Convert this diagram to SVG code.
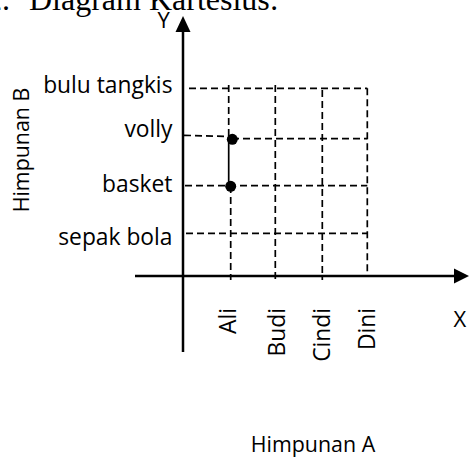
<svg xmlns="http://www.w3.org/2000/svg" width="469" height="458" viewBox="0 0 469 458">
<style>
.title{font-family:"Liberation Serif","Times New Roman",serif;font-size:32px;fill:#000}
.lbl{font-family:"Open Sans","Noto Sans",sans-serif;font-size:22.8px;fill:#000}
.ax{font-family:"Open Sans","Noto Sans",sans-serif;font-size:21.4px;fill:#000}
.xy{font-family:"Open Sans","Noto Sans",sans-serif;font-size:22px;fill:#000}
.axis{stroke:#000;stroke-width:2.5;fill:none}
.grid{stroke:#000;stroke-width:1.7;stroke-dasharray:7 4;fill:none}
.solid{stroke:#000;stroke-width:1.7;fill:none}
</style>
<rect width="469" height="458" fill="#fff"/>
<g id="title">
<text class="title" x="-14" y="10">2.</text>
<text class="title" x="29" y="10">Diagram Kartesius:</text>
</g>
<g id="axes">
<line class="axis" x1="183" y1="30" x2="183" y2="352"/>
<polygon points="183,16 175.5,32 190.5,32" fill="#000"/>
<line class="axis" x1="135" y1="276" x2="456" y2="276"/>
<polygon points="469,276 454,268.5 454,283.5" fill="#000"/>
<text class="xy" x="157.5" y="28">Y</text>
<text class="xy" x="453.5" y="327">X</text>
</g>
<g id="connectors">
<line class="grid" x1="189" y1="88.3" x2="367.3" y2="88.3"/>
<line class="grid" x1="184" y1="135.3" x2="228.7" y2="136.5"/>
<line class="grid" x1="232" y1="138.7" x2="367.3" y2="138.7"/>
<line class="grid" x1="185" y1="185.7" x2="367.3" y2="185.7"/>
<line class="grid" x1="186" y1="233.3" x2="367.3" y2="233.3"/>
<line class="grid" x1="228.7" y1="85" x2="228.7" y2="139"/>
<line class="solid" x1="228.7" y1="139" x2="228.7" y2="186"/>
<line class="grid" x1="230.7" y1="186" x2="230.7" y2="280"/>
<line class="grid" x1="275.3" y1="85" x2="275.3" y2="280"/>
<line class="grid" x1="322.3" y1="90" x2="322.3" y2="280"/>
<line class="grid" x1="367.3" y1="88.3" x2="367.3" y2="276"/>
</g>
<g id="points">
<circle cx="232.3" cy="139.3" r="5.5" fill="#000"/>
<circle cx="230.7" cy="186.3" r="5.5" fill="#000"/>
</g>
<g id="set-B">
<text class="lbl" x="172.5" y="92.7" text-anchor="end">bulu tangkis</text>
<text class="lbl" x="172.5" y="137.3" text-anchor="end">volly</text>
<text class="lbl" x="172.5" y="192.3" text-anchor="end">basket</text>
<text class="lbl" x="172.5" y="245" text-anchor="end">sepak bola</text>
<text class="ax" transform="translate(28.5,150) rotate(-90)" text-anchor="middle">Himpunan B</text>
</g>
<g id="set-A">
<text class="lbl" transform="translate(236,308) rotate(-90)" text-anchor="end">Ali</text>
<text class="lbl" transform="translate(285,308) rotate(-90)" text-anchor="end">Budi</text>
<text class="lbl" transform="translate(330,308) rotate(-90)" text-anchor="end">Cindi</text>
<text class="lbl" transform="translate(375,308) rotate(-90)" text-anchor="end">Dini</text>
<text class="ax" x="313" y="451.7" text-anchor="middle">Himpunan A</text>
</g>
</svg>
